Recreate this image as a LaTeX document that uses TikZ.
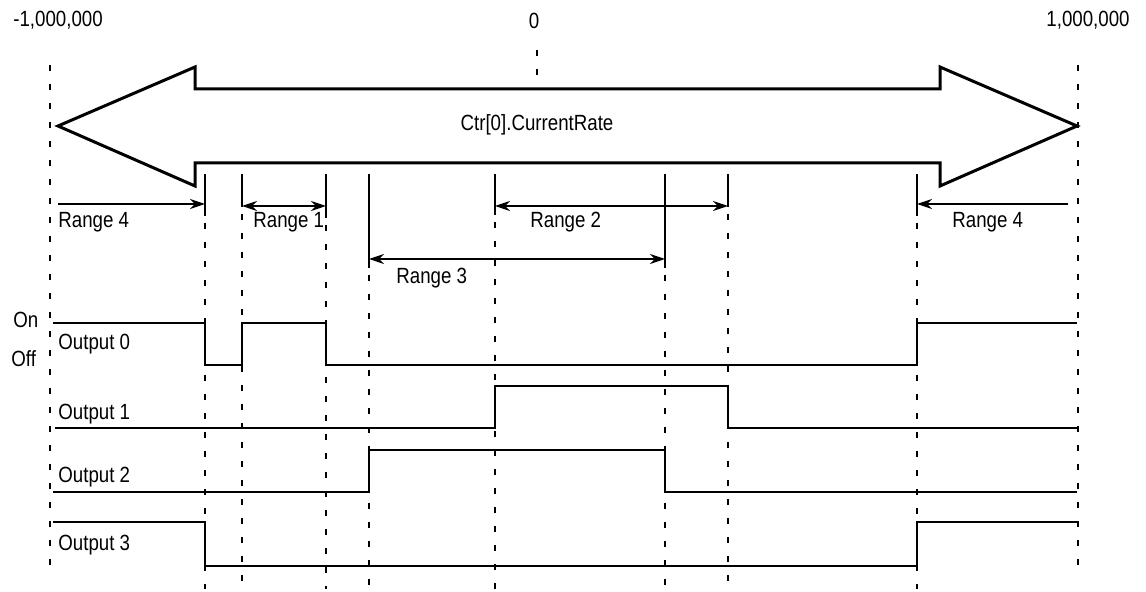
\documentclass[tikz,border=0pt]{standalone}
\usepackage{fontspec}
\setmainfont{Liberation Sans}[FakeStretch=0.85]
\usetikzlibrary{arrows.meta}
\begin{document}
\begin{tikzpicture}[x=0.5pt,y=-0.5pt,
  lbl/.style={font=\fontsize{11}{13}\selectfont, inner sep=0pt},
  guide/.style={line width=1pt, dash pattern=on 3pt off 6.5pt},
  edgeguide/.style={line width=1.2pt, dash pattern=on 3pt off 6.5pt},
  marker/.style={line width=0.7pt},
  rng/.style={line width=0.7pt, -{Stealth[length=7.5pt,width=5pt]}},
  rngboth/.style={line width=0.7pt, {Stealth[length=7.5pt,width=5pt]}-{Stealth[length=7.5pt,width=5pt]}},
  wave/.style={line width=0.8pt},
  bigarrow/.style={line width=1.5pt, line join=miter}]
\useasboundingbox (0,0) rectangle (1146,592);

% scale end labels
\node[lbl, anchor=base] (neg) at (58,27) {-1,000,000};
\node[lbl, anchor=base] (zero) at (534,29) {0};
\node[lbl, anchor=base east] (pos) at (1130,27) {1,000,000};

% scale boundaries and centre mark
\draw[edgeguide] (50,65) -- (50,570);
\draw[edgeguide] (1078,65) -- (1078,572);
\draw[guide] (537,50) -- (537,88);

% double-headed rate arrow
\draw[bigarrow] (58,126) -- (195,67) -- (195,89) -- (940,89) -- (940,67)
  -- (1077,126) -- (940,186) -- (940,163) -- (195,163) -- (195,186) -- cycle;
\node[lbl, anchor=base] (rate) at (537,131) {Ctr[0].CurrentRate};

% range limits: solid marker on top, dashed guide below
\foreach \xx/\ys in {205/216, 242/207, 326/218, 369/268, 495/215, 665/268, 728/207, 917/216} {
  \draw[marker] (\xx,174) -- (\xx,\ys);
  \draw[guide] (\xx,\ys+7) -- (\xx,589);
}

% range dimension arrows
\coordinate (r4l) at (58,204);
\coordinate (r4le) at (205,204);
\draw[rng] (r4l) -- (r4le);
\node[lbl, anchor=base west] (t4l) at (58,228) {Range 4};

\coordinate (r1a) at (242,206);
\coordinate (r1b) at (326,206);
\draw[rngboth] (r1a) -- (r1b);
\node[lbl, anchor=base west] (t1) at (253,228) {Range 1};

\coordinate (r2a) at (495,206);
\coordinate (r2b) at (728,206);
\draw[rngboth] (r2a) -- (r2b);
\node[lbl, anchor=base west] (t2) at (530,228) {Range 2};

\coordinate (r3a) at (369,259);
\coordinate (r3b) at (665,259);
\draw[rngboth] (r3a) -- (r3b);
\node[lbl, anchor=base west] (t3) at (396,284) {Range 3};

\coordinate (r4r) at (1068,204);
\coordinate (r4re) at (917,204);
\draw[rng] (r4r) -- (r4re);
\node[lbl, anchor=base west] (t4r) at (952,228) {Range 4};

% state labels
\node[lbl, anchor=base west] (on) at (13,328) {On};
\node[lbl, anchor=base west] (off) at (11,367) {Off};

% output waveforms
\draw[wave] (53,323) -- (205,323) -- (205,365) -- (242,365) -- (242,323)
  -- (326,323) -- (326,365) -- (917,365) -- (917,323) -- (1077,323);
\node[lbl, anchor=base west] (o0) at (58,350) {Output 0};

\draw[wave] (55,428) -- (495,428) -- (495,386) -- (728,386) -- (728,428) -- (1077,428);
\node[lbl, anchor=base west] (o1) at (58,420) {Output 1};

\draw[wave] (53,492) -- (369,492) -- (369,450) -- (665,450) -- (665,492) -- (1077,492);
\node[lbl, anchor=base west] (o2) at (58,483) {Output 2};

\draw[wave] (53,522) -- (205,522) -- (205,566) -- (917,566) -- (917,522) -- (1077,522);
\node[lbl, anchor=base west] (o3) at (58,551) {Output 3};
\end{tikzpicture}
\end{document}
